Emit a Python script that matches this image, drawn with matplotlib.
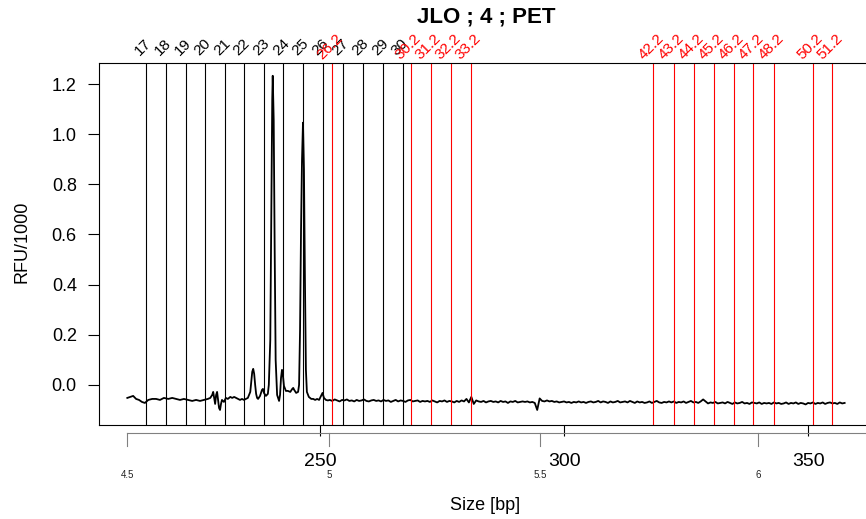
import numpy as np
import matplotlib.pyplot as plt
from matplotlib.transforms import ScaledTranslation

plt.rcParams['font.family'] = "Liberation Sans"

# trace: peak region read point by point (size in bp, RFU/1000)
peak_bp = [210.5, 211.1, 211.7, 212.3, 212.9, 213.5, 214.1, 214.8, 215.6, 216.4,
           217.2, 218.0, 218.9, 219.7, 220.5, 221.3, 222.1, 223.0, 223.8, 224.6,
           225.4, 226.2, 227.0, 227.5, 227.9, 228.1, 228.3, 228.5, 228.7, 228.9,
           229.1, 229.3, 229.5, 229.7, 229.9, 230.3, 230.7, 231.1, 231.6, 232.0,
           232.4, 232.8, 233.2, 233.6, 234.0, 234.4, 234.8, 235.2, 235.7, 235.9,
           236.1, 236.3, 236.5, 236.7, 236.9, 237.1, 237.3, 237.7, 238.1, 238.3,
           238.5, 238.9, 239.3, 239.5, 239.8, 240.0, 240.2, 240.3, 240.5, 240.7,
           240.9, 241.2, 241.6, 241.8, 242.0, 242.2, 242.4, 242.6, 243.0, 243.4,
           243.9, 244.3, 244.5, 244.7, 245.1, 245.5, 245.7, 245.9, 246.1, 246.3,
           246.5, 246.7, 246.9, 247.1, 247.3, 247.7, 248.2, 248.6, 249.0, 249.4,
           249.8, 250.2, 250.5, 250.8, 251.2, 251.6]
peak_rfu = [-0.052, -0.048, -0.044, -0.056, -0.060, -0.068, -0.072, -0.060, -0.056, -0.056,
            -0.060, -0.052, -0.056, -0.052, -0.056, -0.060, -0.056, -0.060, -0.064, -0.060,
            -0.064, -0.060, -0.056, -0.052, -0.040, -0.028, -0.052, -0.076, -0.040, -0.028,
            -0.060, -0.092, -0.100, -0.076, -0.060, -0.068, -0.052, -0.056, -0.048, -0.052,
            -0.048, -0.052, -0.056, -0.060, -0.056, -0.060, -0.056, -0.052, -0.028, 0.012,
            0.052, 0.064, 0.044, 0.000, -0.036, -0.052, -0.056, -0.044, -0.020, -0.016,
            -0.032, -0.044, -0.036, 0.000, 0.180, 0.658, 1.137, 1.233, 1.057, 0.538,
            0.100, -0.040, -0.064, -0.040, 0.028, 0.060, 0.036, -0.004, -0.024, -0.024,
            -0.028, -0.016, -0.012, -0.020, -0.032, -0.028, 0.000, 0.219, 0.618, 0.897,
            1.046, 0.858, 0.419, 0.060, -0.028, -0.048, -0.056, -0.056, -0.060, -0.056,
            -0.060, -0.044, -0.032, -0.052, -0.060, -0.062]

# flat part of the trace, one reading every 0.5 bp from 252.0 to 357.5
flat_start, flat_step = 252.0, 0.5
flat_rfu = [
    -0.060, -0.064, -0.058, -0.062, -0.066, -0.060, -0.062, -0.058, -0.064, -0.062,
    -0.066, -0.060, -0.064, -0.062, -0.058, -0.064, -0.066, -0.062, -0.060, -0.064,
    -0.062, -0.066, -0.060, -0.064, -0.062, -0.068, -0.064, -0.060, -0.066, -0.062,
    -0.064, -0.068, -0.062, -0.060, -0.066, -0.064, -0.062, -0.068, -0.064, -0.066,
    -0.064, -0.068, -0.062, -0.066, -0.070, -0.064, -0.066, -0.062, -0.068, -0.064,
    -0.066, -0.070, -0.064, -0.068, -0.062, -0.066, -0.056, -0.070, -0.048, -0.076,
    -0.062, -0.066, -0.068, -0.064, -0.070, -0.066, -0.064, -0.068, -0.066, -0.070,
    -0.064, -0.068, -0.066, -0.072, -0.066, -0.068, -0.064, -0.070, -0.068, -0.066,
    -0.068, -0.066, -0.070, -0.068, -0.072, -0.100, -0.054, -0.064, -0.066, -0.062,
    -0.066, -0.064, -0.068, -0.066, -0.070, -0.068, -0.066, -0.070, -0.068, -0.072,
    -0.068, -0.070, -0.066, -0.070, -0.068, -0.072, -0.068, -0.066, -0.070, -0.068,
    -0.064, -0.070, -0.066, -0.068, -0.072, -0.066, -0.070, -0.068, -0.064, -0.070,
    -0.068, -0.066, -0.070, -0.064, -0.068, -0.072, -0.066, -0.070, -0.068, -0.072,
    -0.070, -0.066, -0.072, -0.068, -0.064, -0.070, -0.072, -0.068, -0.070, -0.066,
    -0.070, -0.066, -0.072, -0.068, -0.070, -0.066, -0.072, -0.068, -0.064, -0.070,
    -0.068, -0.072, -0.066, -0.058, -0.066, -0.074, -0.070, -0.072, -0.068, -0.074,
    -0.072, -0.070, -0.074, -0.068, -0.072, -0.076, -0.070, -0.074, -0.072, -0.068,
    -0.074, -0.072, -0.076, -0.070, -0.072, -0.074, -0.070, -0.076, -0.072, -0.074,
    -0.072, -0.076, -0.070, -0.074, -0.072, -0.076, -0.074, -0.070, -0.076, -0.072,
    -0.074, -0.070, -0.076, -0.072, -0.074, -0.078, -0.072, -0.074, -0.070, -0.076,
    -0.072, -0.074, -0.070, -0.076, -0.072, -0.070, -0.074, -0.072, -0.076, -0.070,
    -0.074, -0.072]

# allele bins
black_alleles = ["17", "18", "19", "20", "21", "22", "23", "24", "25", "26",
                 "27", "28", "29", "30"]
black_pos = [214.3, 218.4, 222.5, 226.4, 230.5, 234.4, 238.5, 242.5, 246.5, 250.55,
             254.6, 258.7, 262.8, 266.9]
red_alleles = ["26.2", "30.2", "31.2", "32.2", "33.2", "42.2", "43.2", "44.2", "45.2",
               "46.2", "47.2", "48.2", "50.2", "51.2"]
red_pos = [252.5, 268.6, 272.7, 276.8, 280.9, 318.3, 322.5, 326.6, 330.7, 334.8,
           338.8, 343.0, 351.0, 355.0]

# second (scan) axis
scan_pos = [210.5, 251.9, 295.1, 339.8]
scan_labels = ["4.5", "5", "5.5", "6"]

size_ticks = [250, 300, 350]
rfu_ticks = [0.0, 0.2, 0.4, 0.6, 0.8, 1.0, 1.2]

flat_bp = flat_start + flat_step * np.arange(len(flat_rfu))
trace_bp = np.concatenate([peak_bp, flat_bp])
trace_rfu = np.concatenate([peak_rfu, flat_rfu])

fig = plt.figure(figsize=(8.66, 5.19), dpi=100)
ax = fig.add_axes([99 / 866, 94 / 519, 772 / 866, 362 / 519])

ax.plot(trace_bp, trace_rfu, color="black", lw=1.3)
for p in black_pos:
    ax.axvline(p, color="black", lw=0.8)
for p in red_pos:
    ax.axvline(p, color="red", lw=0.8)

ax.set_xlim(204.7, 362.9)
ax.set_ylim(-0.16, 1.284)
ax.set_yticks(rfu_ticks)
ax.set_yticklabels(["%.1f" % v for v in rfu_ticks])
ax.set_xticks(size_ticks)
ax.tick_params(axis="y", length=8, width=0.8, pad=8, labelsize=13)
ax.tick_params(axis="x", length=8, width=0.8, pad=12, labelsize=14)
for s in ax.spines.values():
    s.set_linewidth(0.8)

# allele labels above the box
lab_tr = ax.get_xaxis_transform()
for name, p in zip(black_alleles, black_pos):
    ax.text(p - 0.5, 1.044, name, transform=lab_tr, rotation=45, rotation_mode="anchor",
            ha="center", va="center", fontsize=11, color="black", clip_on=False)
for name, p in zip(red_alleles, red_pos):
    ax.text(p - 0.5, 1.044, name, transform=lab_tr, rotation=45, rotation_mode="anchor",
            ha="center", va="center", fontsize=11, color="red", clip_on=False)

# grey scan axis under the size axis
down = ScaledTranslation(0, -8 / 100, fig.dpi_scale_trans)
scan_tr = ax.get_xaxis_transform() + down
ax.plot([scan_pos[0], 362.9], [0, 0], transform=scan_tr, color="grey", lw=0.8, clip_on=False)
for p, name in zip(scan_pos, scan_labels):
    ax.plot([p, p], [0, -0.036], transform=scan_tr, color="grey", lw=0.8, clip_on=False)
    ax.text(p, -0.115, name, transform=scan_tr, ha="center", va="center",
            fontsize=7, color="#222222")

fig.text(486 / 866, 1 - 17 / 519, "JLO ; 4 ; PET", ha="center", va="center",
         fontsize=16, fontweight="bold")
fig.text(485 / 866, 1 - 505 / 519, "Size [bp]", ha="center", va="center", fontsize=13)
fig.text(22 / 866, 1 - 242 / 519, "RFU/1000", ha="center", va="center", rotation=90,
         fontsize=13)

fig.savefig("out.png", dpi=100)
